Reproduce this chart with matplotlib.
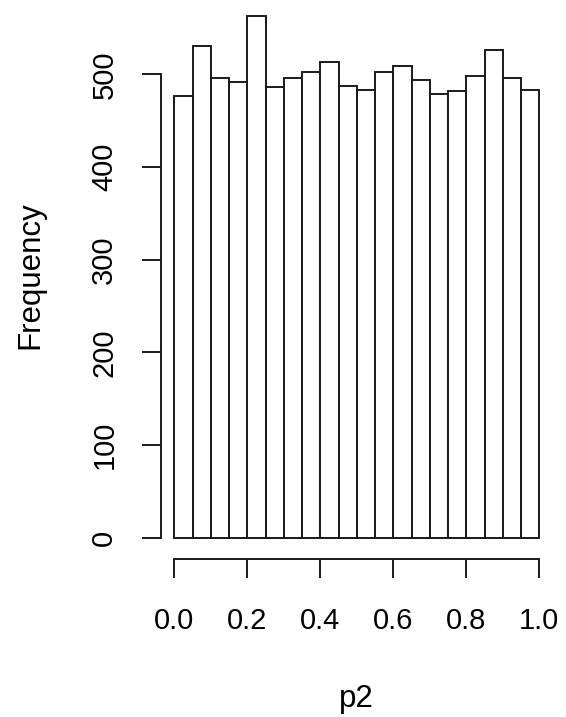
import numpy as np
import matplotlib
matplotlib.use("Agg")
import matplotlib.pyplot as plt

# histogram of p2, 20 bins of width 0.05
bin_edges = np.linspace(0.0, 1.0, 21)
counts = [477, 531, 496, 492, 563, 486, 496, 503, 513, 487,
          483, 503, 509, 494, 479, 482, 498, 526, 496, 483]
xticks = [0.0, 0.2, 0.4, 0.6, 0.8, 1.0]
xtick_labels = ["0.0", "0.2", "0.4", "0.6", "0.8", "1.0"]
yticks = [0, 100, 200, 300, 400, 500]

plt.rcParams['font.family'] = ['Liberation Sans', 'DejaVu Sans']

W, H = 566, 717
fig = plt.figure(figsize=(W / 100, H / 100), dpi=100)
ax = fig.add_axes([161 / W, (H - 559.3) / H, (553.9 - 161) / W, 559.3 / H])

lw = 1.4
ax.bar(bin_edges[:-1], counts, width=np.diff(bin_edges), align='edge',
       facecolor='white', edgecolor='#1a1a1a', linewidth=lw)

ax.set_xlim(-0.0364, 1.04)
ax.set_ylim(-23.3, 580.2)

for s in ['top', 'right']:
    ax.spines[s].set_visible(False)
ax.spines['left'].set_bounds(0, 500)
ax.spines['bottom'].set_bounds(0, 1)
for s in ['left', 'bottom']:
    ax.spines[s].set_linewidth(lw)
    ax.spines[s].set_color('#1a1a1a')

ax.set_xticks(xticks)
ax.set_xticklabels(xtick_labels)
ax.set_yticks(yticks)
ax.set_yticklabels([str(v) for v in yticks], rotation=90, va='center')
ax.tick_params(axis='both', length=13.7, width=lw, color='#1a1a1a', labelsize=21)
ax.tick_params(axis='y', pad=17)
ax.tick_params(axis='x', pad=21)

fig.text(30 / W, 1 - 275 / H, "Frequency", rotation=90, ha='center', va='center', fontsize=22.5)
fig.text(356 / W, 1 - 699 / H, "p2", ha='center', va='center', fontsize=22.5)

fig.savefig("out.png", dpi=100)
